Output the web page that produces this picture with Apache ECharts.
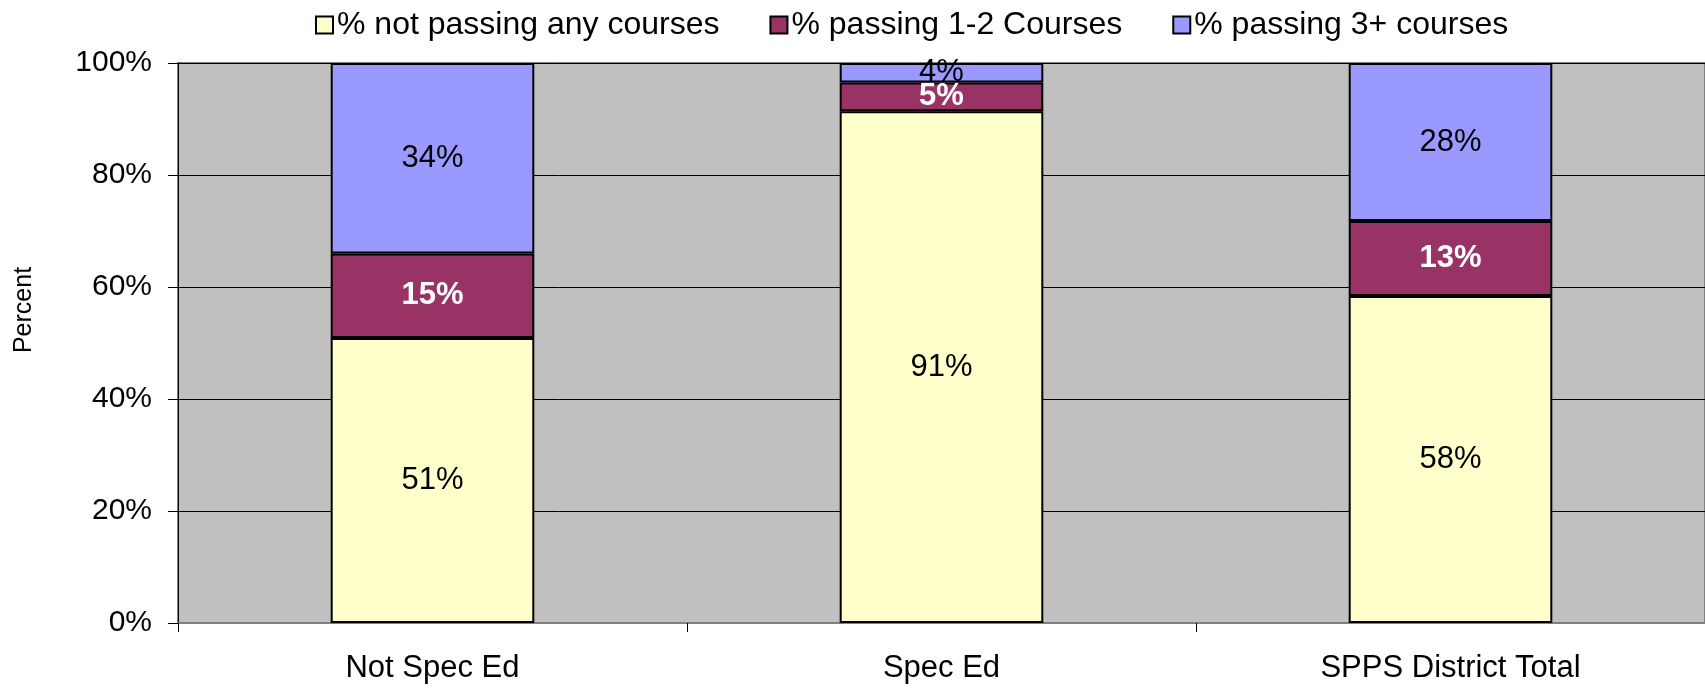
<!DOCTYPE html>
<html>
<head>
<meta charset="utf-8">
<script src="https://cdn.jsdelivr.net/npm/echarts@6/dist/echarts.min.js"></script>
<style>
  html, body { margin: 0; padding: 0; background: #fff; }
  #chart { width: 1705px; height: 688px; }
</style>
</head>
<body>
<div id="chart"></div>
<script>
const categories = ['Not Spec Ed', 'Spec Ed', 'SPPS District Total']
const notPassing = [50.9, 91.4, 58.4]
const passing12 = [15.1, 5.1, 13.4]
const passing3 = [34.0, 3.5, 28.2]
const yTicks = [0, 20, 40, 60, 80, 100]

const font = 'Liberation Sans, Arial, sans-serif'
const pct = p => Math.round(p.value) + '%'

const myChart = echarts.init(document.getElementById('chart'))
myChart.setOption({
  animation: false,
  textStyle: { fontFamily: font },
  legend: {
    top: 4,
    left: 310,
    icon: 'rect',
    itemWidth: 17,
    itemHeight: 17,
    itemGap: 50,
    itemStyle: { borderColor: '#000', borderWidth: 2 },
    textStyle: { fontSize: 32, color: '#000', fontFamily: font, padding: [0, 0, 0, -1] },
    data: ['% not passing any courses', '% passing 1-2 Courses', '% passing 3+ courses']
  },
  graphic: [
    {
      type: 'text',
      x: 24,
      y: 310,
      rotation: Math.PI / 2,
      style: { text: 'Percent', font: '25px ' + font, fill: '#000', align: 'center', verticalAlign: 'middle' }
    }
  ],
  grid: {
    left: 178,
    right: 0,
    top: 63,
    bottom: 65,
    show: true,
    backgroundColor: '#C0C0C0',
    borderColor: '#808080',
    borderWidth: 2
  },
  xAxis: {
    type: 'category',
    data: categories,
    axisLine: { lineStyle: { color: '#808080', width: 2 } },
    axisTick: { show: true, length: 9, lineStyle: { color: '#000' } },
    axisLabel: { fontSize: 31, color: '#000', margin: 30, fontFamily: font }
  },
  yAxis: {
    type: 'value',
    min: yTicks[0],
    max: yTicks[yTicks.length - 1],
    interval: 20,
    axisLine: { show: true, lineStyle: { color: '#000', width: 1 } },
    axisTick: { show: true, length: 10, lineStyle: { color: '#000' } },
    axisLabel: { fontSize: 30, color: '#000', margin: 26, formatter: '{value}%', fontFamily: font },
    splitLine: { show: true, lineStyle: { color: '#000', width: 1 } }
  },
  series: [
    {
      name: '% not passing any courses',
      type: 'bar',
      stack: 'total',
      barWidth: '40%',
      data: notPassing,
      itemStyle: { color: '#FFFFCC', borderColor: '#000', borderWidth: 2 },
      label: { show: true, position: 'inside', formatter: pct, fontSize: 31, color: '#000', fontFamily: font }
    },
    {
      name: '% passing 1-2 Courses',
      type: 'bar',
      stack: 'total',
      data: passing12,
      itemStyle: { color: '#993366', borderColor: '#000', borderWidth: 2 },
      label: { show: true, position: 'inside', formatter: pct, fontSize: 31, fontWeight: 'bold', color: '#fff', fontFamily: font }
    },
    {
      name: '% passing 3+ courses',
      type: 'bar',
      stack: 'total',
      data: passing3,
      itemStyle: { color: '#9999FF', borderColor: '#000', borderWidth: 2 },
      label: { show: true, position: 'inside', formatter: pct, fontSize: 31, color: '#000', fontFamily: font }
    }
  ]
})
window.addEventListener('resize', () => {
  myChart.resize()
})
</script>
</body>
</html>
